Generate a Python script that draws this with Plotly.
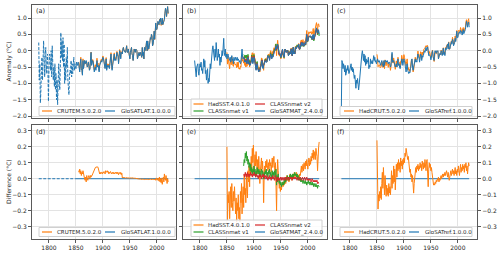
import plotly.graph_objects as go

W, H = 500, 253
ORANGE = "#ff7f0e"
BLUE = "#1f77b4"
GREEN = "#2ca02c"
RED = "#d62728"
FONT = "DejaVu Sans"
TXT = "#262626"

# ---------------- data (annual anomalies, degC) ----------------
glosatlat_start = 1781
glosatlat = [
    0.25, -0.9, -0.4, -1.6, -1.2, -0.6, -0.2, -0.9, -0.3, 0.3,
    -0.2, -0.8, -0.1, 0.1, -0.7, -0.4, -0.1, -0.6, -1.55, -0.5,
    -0.1, -0.3, -0.6, 0.0, -0.8, 0.15, -0.3, -0.9, -0.5, -1.1,
    -0.4, -1.2, -0.7, -1.5, -0.9, -1.65, -1.0, -0.4, -0.8, -1.2,
    -0.5, 0.55, -0.2, 0.3, -0.3, 0.4, -0.5, 0.2, -1.0, -0.4,
    -0.9, -0.2, -0.5, 0.1, -0.9, -1.1, -1.35, -0.8, -0.6, -0.7,
    -0.3, -0.8, -0.4, -0.7, -0.3, -0.2, -0.6, -0.4, -0.5, -0.55,
    -0.35, -0.40, -0.45, -0.35, -0.40, -0.55, -0.65, -0.40, -0.25, -0.55,
    -0.60, -0.75, -0.30, -0.55, -0.35, -0.30, -0.40, -0.35, -0.30, -0.40,
    -0.50, -0.45, -0.35, -0.45, -0.60, -0.55, -0.25, -0.05, -0.45, -0.40,
    -0.30, -0.35, -0.60, -0.65, -0.55, -0.50, -0.60, -0.50, -0.30, -0.50,
    -0.45, -0.55, -0.65, -0.45, -0.40, -0.30, -0.30, -0.35, -0.25, -0.20,
    -0.25, -0.40, -0.45, -0.55, -0.40, -0.25, -0.60, -0.45, -0.50, -0.45,
    -0.50, -0.55, -0.40, -0.15, -0.10, -0.40, -0.60, -0.45, -0.30, -0.30,
    -0.10, -0.30, -0.25, -0.30, -0.15, -0.05, -0.15, -0.15, -0.40, -0.05,
    0.00, -0.05, -0.25, -0.05, -0.10, -0.10, 0.05, 0.10, 0.00, 0.00,
    -0.05, -0.05, 0.05, 0.15, -0.05, -0.05, 0.05, -0.05, -0.10, -0.25,
    -0.05, 0.00, 0.10, -0.10, -0.15, -0.30, 0.00, 0.05, 0.00, -0.05,
    0.05, 0.00, 0.00, -0.25, -0.20, -0.10, -0.05, -0.15, -0.05, -0.05,
    -0.15, -0.20, 0.10, -0.15, -0.05, -0.25, 0.10, 0.00, 0.10, 0.15,
    0.30, 0.00, 0.30, 0.05, 0.05, 0.15, 0.25, 0.40, 0.35, 0.50,
    0.45, 0.15, 0.20, 0.35, 0.60, 0.35, 0.50, 0.85, 0.65, 0.65,
    0.75, 0.90, 0.85, 0.80, 0.95, 0.90, 1.00, 0.80, 0.85, 1.00,
    0.80, 0.85, 0.90, 0.95, 1.15, 1.30, 1.20, 1.05, 1.25, 1.35, 1.15,
]
glosatlat_dashed_until = 1850

crutem_start = 1855
crutem_minus_glosatlat = [
    0.05, 0.04, 0.06, 0.03, 0.05, 0.02, 0.04, 0.03, 0.05, 0.02,
    0.03, 0.00, -0.01, 0.01, -0.02, 0.02, 0.00, -0.01, 0.01, 0.02,
    0.01, 0.00, 0.02, 0.01, 0.02, 0.02, 0.03, 0.04, 0.04, 0.05,
    0.06, 0.07, 0.07, 0.075, 0.07, 0.075, 0.07, 0.06, 0.04, 0.03,
    0.04, 0.03, 0.04, 0.04, 0.03, 0.04, 0.035, 0.045, 0.04, 0.03,
    0.05, 0.04, 0.045, 0.05, 0.04, 0.045, 0.03, 0.04, 0.035, 0.045,
    0.04, 0.03, 0.035, 0.04, 0.03, 0.04, 0.035, 0.03, 0.04, 0.035,
    0.04, 0.03, 0.04, 0.035, 0.025, 0.04, 0.035, 0.03, 0.04, 0.025,
    0.035, 0.005, 0.01, 0.005, 0.01, 0.005, 0.008, 0.004, 0.006, 0.005,
    0.007, 0.004, 0.006, 0.005, 0.004, 0.006, 0.005, 0.004, 0.005, 0.003,
    0.004, 0.005, 0.003, 0.004, 0.002, 0.003, 0.002, 0.001, 0.002, 0.000,
    0.001, -0.001, 0.000, -0.002, -0.001, -0.003, -0.002, -0.004, -0.003, -0.002,
    -0.004, -0.003, -0.005, -0.002, -0.004, -0.003, -0.005, -0.006, -0.004, -0.005,
    -0.003, -0.006, -0.004, -0.002, -0.005, -0.003, -0.006, -0.004, -0.002, -0.005,
    -0.003, -0.008, -0.002, -0.01, 0.005, -0.005, 0.0, -0.01, 0.005, -0.015,
    0.01, -0.02, 0.0, -0.025, 0.005, -0.035, -0.01, 0.01, -0.02, 0.03,
    0.0, -0.01, 0.02, -0.005, -0.03, 0.0, -0.02,
]

glosatmat_start = 1790
glosatmat = [
    -0.30, -0.55, -0.75, -0.80, -0.50, -0.45, -0.40, -0.65, -0.75, -0.55,
    -0.40, -0.50, -0.35, -0.60, -0.55, -0.70, -0.45, -0.25, -0.50, -0.30,
    -0.70, -0.60, -0.90, -0.75, -0.55, -1.00, -0.85, -0.95, -0.60, -0.40,
    -0.55, -0.20, -0.30, 0.05, 0.15, -0.10, -0.05, -0.30, 0.05, -0.20,
    0.25, -0.10, -0.30, -0.15, 0.05, -0.20, -0.10, -0.45, -0.20, -0.35,
    -0.10, 0.00, -0.15, 0.05, 0.38, -0.05, -0.15, 0.05, -0.20, -0.10,
    -0.25, -0.15, -0.10, -0.20, -0.25, -0.30, -0.20, -0.35, -0.25, -0.15,
    -0.30, -0.25, -0.40, -0.20, -0.30, -0.25, -0.20, -0.30, -0.25, -0.20,
    -0.30, -0.25, -0.30, -0.35, -0.30, -0.40, -0.35, -0.10, 0.05, -0.20,
    -0.25, -0.20, -0.25, -0.35, -0.30, -0.35, -0.30, -0.40, -0.30, -0.20,
    -0.40, -0.35, -0.45, -0.45, -0.40, -0.35, -0.20, -0.25, -0.40, -0.30,
    -0.20, -0.25, -0.40, -0.50, -0.60, -0.45, -0.40, -0.55, -0.60, -0.65,
    -0.60, -0.62, -0.50, -0.50, -0.35, -0.30, -0.50, -0.55, -0.45, -0.40,
    -0.35, -0.30, -0.35, -0.35, -0.35, -0.25, -0.15, -0.20, -0.20, -0.30,
    -0.15, -0.10, -0.15, -0.25, -0.15, -0.20, -0.15, -0.05, 0.00, 0.00,
    0.10, 0.15, 0.05, 0.10, 0.20, 0.10, -0.10, -0.10, -0.10, -0.10,
    -0.20, -0.05, 0.00, 0.05, -0.10, -0.15, -0.20, 0.00, 0.05, 0.00,
    -0.05, 0.00, 0.00, 0.00, -0.15, -0.10, -0.05, -0.05, -0.10, 0.05,
    -0.05, -0.15, 0.00, 0.10, -0.10, -0.05, -0.10, 0.10, 0.05, 0.10,
    0.15, 0.15, 0.10, 0.20, 0.05, 0.05, 0.10, 0.25, 0.25, 0.15,
    0.25, 0.25, 0.15, 0.15, 0.20, 0.25, 0.20, 0.40, 0.50, 0.30,
    0.30, 0.40, 0.45, 0.45, 0.45, 0.45, 0.45, 0.40, 0.35, 0.45,
    0.50, 0.35, 0.40, 0.45, 0.55, 0.65, 0.70, 0.60, 0.55, 0.65, 0.62, 0.50,
]

hadsst_start = 1850
hadsst_minus_glosatmat = [
    0.20, -0.26, -0.10, -0.15, -0.08, -0.25, -0.12, -0.05, -0.18, -0.03,
    -0.15, -0.20, -0.08, -0.14, -0.05, -0.18, -0.22, -0.12, -0.27, -0.15,
    -0.20, -0.10, -0.25, -0.18, -0.27, -0.08, -0.15, -0.03, -0.22, -0.12,
    -0.05, -0.18, 0.02, -0.10, -0.06, -0.15, 0.03, -0.08, -0.12, 0.05,
    -0.02, 0.08, -0.05, 0.10, 0.03, 0.14, 0.06, 0.19, 0.10, 0.21,
    0.12, 0.05, 0.15, 0.08, 0.17, 0.10, 0.03, 0.12, 0.06, 0.14,
    0.08, -0.03, 0.05, 0.10, 0.13, 0.06, 0.11, 0.04, -0.15, 0.02,
    0.08, 0.05, 0.11, 0.07, 0.12, 0.08, 0.05, 0.10, 0.06, 0.12,
    0.08, 0.10, 0.04, 0.09, 0.13, 0.07, 0.10, 0.14, 0.08, 0.05,
    0.10, -0.05, -0.20, 0.02, 0.12, 0.05, -0.02, -0.06, -0.03, -0.08,
    -0.05, -0.07, -0.04, -0.02, -0.05, -0.03, -0.04, -0.02, 0.00, -0.03,
    0.00, 0.02, -0.01, 0.01, 0.00, -0.02, 0.01, 0.03, 0.00, 0.02,
    -0.01, 0.01, 0.03, 0.00, 0.02, 0.04, 0.01, 0.03, 0.02, 0.04,
    0.01, 0.03, 0.00, 0.02, 0.01, 0.03, 0.02, 0.05, 0.08, 0.04,
    0.06, 0.09, 0.05, 0.10, 0.08, 0.06, 0.11, 0.08, 0.12, 0.09,
    0.06, 0.10, 0.13, 0.08, 0.12, 0.09, 0.14, 0.11, 0.16, 0.13,
    0.18, 0.12, 0.15, 0.17, 0.12, 0.19, 0.16, 0.14, 0.05, 0.17,
    0.20, 0.23,
]

classnmat_v1_start = 1881
classnmat_v1_minus_glosatmat = [
    0.08, 0.12, 0.10, 0.16, 0.13, 0.17, 0.11, 0.14, 0.09, 0.12,
    0.07, 0.10, 0.05, 0.09, 0.04, 0.07, 0.03, 0.06, 0.04, 0.08,
    0.03, 0.06, 0.01, 0.05, 0.02, 0.07, 0.04, 0.03, 0.06, 0.02,
    0.05, 0.01, 0.04, 0.06, 0.02, 0.05, 0.03, 0.00, 0.04, 0.02,
    0.05, 0.03, 0.06, 0.02, 0.04, 0.01, 0.05, 0.03, 0.06, 0.02,
    0.04, 0.00, 0.03, 0.05, 0.01, 0.04, 0.02, 0.05, 0.01, 0.03,
    0.06, -0.04, 0.02, -0.02, 0.03, -0.01, -0.03, -0.01, -0.04, -0.02,
    -0.05, -0.03, -0.04, -0.02, -0.04, -0.01, -0.03, 0.00, -0.02, 0.01,
    -0.01, 0.02, 0.00, 0.01, -0.01, 0.02, 0.00, 0.03, 0.01, 0.02,
    0.00, 0.03, 0.01, 0.03, 0.02, 0.04, 0.02, 0.03, 0.01, 0.03,
    0.00, 0.02, -0.01, 0.01, -0.01, 0.00, -0.02, 0.00, -0.02, -0.01,
    -0.03, -0.01, -0.02, -0.03, -0.01, -0.03, -0.02, -0.04, -0.02, -0.03,
    -0.01, -0.03, -0.02, -0.04, -0.02, -0.03, -0.04, -0.02, -0.04, -0.03,
    -0.05, -0.03, -0.04, -0.05, -0.03, -0.05, -0.04, -0.06, -0.04, -0.05,
    -0.05,
]

classnmat_v2_start = 1881
classnmat_v2_minus_glosatmat = [
    0.02, 0.03, 0.01, 0.04, 0.02, 0.03, 0.01, 0.04, 0.02, 0.03,
    0.01, 0.03, 0.02, 0.04, 0.02, 0.03, 0.01, 0.03, 0.02, 0.04,
    0.02, 0.03, 0.01, 0.02, 0.03, 0.01, 0.02, 0.00, 0.02, 0.01,
    0.03, 0.01, 0.02, 0.00, 0.02, 0.01, 0.03, 0.01, 0.02, 0.00,
    0.02, 0.01, 0.00, 0.02, 0.01, -0.01, 0.01, 0.00, 0.02, 0.00,
    0.01, -0.01, 0.01, 0.00, 0.02, 0.00, 0.01, -0.01, 0.01, 0.02,
    0.00, -0.02, 0.01, -0.01, 0.01, -0.01, 0.00, -0.01, 0.01, 0.00,
    -0.01, 0.01, 0.00, -0.01, 0.00, 0.01, -0.01, 0.00, 0.01, 0.00,
    -0.01, 0.01, 0.00, 0.01, -0.01, 0.00, 0.01, 0.00, 0.01, 0.00,
    -0.01, 0.01, 0.00, 0.01, 0.00, 0.01, 0.00, 0.01, 0.00, -0.01,
    0.00, 0.01, 0.00, -0.01, 0.00, 0.01, 0.00, -0.01, 0.00, 0.01,
    0.00, -0.01, 0.00, 0.01, 0.00, -0.01, 0.00, 0.01, -0.01, 0.00,
    -0.01, 0.00, -0.01, 0.00, -0.01, -0.02, -0.01, 0.00, -0.01, -0.02,
    -0.01, -0.02, -0.01, -0.02, -0.01, -0.02, -0.01, -0.03, -0.02, -0.03,
]

glosatref_start = 1784
glosatref = [
    -1.72, -0.30, -0.35, -0.55, -0.40, -0.50, -0.65, -0.45, -0.75, -0.70,
    -0.55, -0.60, -0.45, -0.55, -0.70, -0.65, -0.50, -0.45, -0.40, -0.60,
    -0.50, -0.65, -0.55, -0.70, -0.85, -0.75, -0.95, -1.15, -0.90, -1.00,
    -0.85, -1.10, -1.20, -1.05, -0.80, -0.65, -0.55, -0.25, -0.10, 0.00,
    -0.15, -0.30, -0.10, -0.35, -0.15, -0.45, -0.25, -0.40, -0.30, -0.35,
    -0.20, -0.55, -0.45, -0.50, -0.25, -0.40, -0.35, -0.30, -0.40, -0.25,
    -0.15, -0.30, -0.20, -0.35, -0.30, -0.40, -0.35, -0.25, -0.30, -0.35,
    -0.30, -0.35, -0.40, -0.45, -0.35, -0.30, -0.40, -0.45, -0.50, -0.30,
    -0.45, -0.30, -0.30, -0.35, -0.30, -0.30, -0.35, -0.40, -0.35, -0.35,
    -0.40, -0.50, -0.45, -0.20, -0.05, -0.35, -0.35, -0.30, -0.35, -0.45,
    -0.50, -0.45, -0.40, -0.50, -0.40, -0.25, -0.45, -0.40, -0.50, -0.55,
    -0.45, -0.40, -0.25, -0.30, -0.45, -0.35, -0.25, -0.30, -0.45, -0.55,
    -0.65, -0.50, -0.40, -0.60, -0.65, -0.70, -0.65, -0.68, -0.55, -0.50,
    -0.30, -0.25, -0.50, -0.60, -0.50, -0.40, -0.35, -0.25, -0.35, -0.30,
    -0.35, -0.25, -0.10, -0.20, -0.20, -0.35, -0.15, -0.10, -0.15, -0.30,
    -0.15, -0.20, -0.15, -0.05, 0.00, -0.05, 0.05, 0.10, 0.00, 0.05,
    0.12, 0.00, -0.15, -0.12, -0.15, -0.18, -0.28, -0.12, -0.08, 0.00,
    -0.18, -0.22, -0.30, -0.05, 0.00, -0.05, -0.08, 0.00, -0.02, 0.00,
    -0.25, -0.18, -0.10, -0.08, -0.12, 0.00, -0.05, -0.15, -0.05, 0.08,
    -0.12, -0.05, -0.15, 0.08, 0.02, 0.10, 0.15, 0.20, 0.05, 0.25,
    0.05, 0.05, 0.12, 0.25, 0.28, 0.20, 0.35, 0.32, 0.15, 0.18,
    0.25, 0.38, 0.28, 0.42, 0.60, 0.40, 0.40, 0.52, 0.58, 0.58,
    0.52, 0.62, 0.58, 0.58, 0.48, 0.58, 0.65, 0.52, 0.55, 0.60,
    0.65, 0.78, 0.90, 0.80, 0.72, 0.85, 0.88, 0.72,
]

hadcrut_start = 1850
hadcrut_minus_glosatref = [
    0.24, 0.03, -0.19, -0.10, -0.14, -0.08, -0.12, -0.05, -0.13, -0.03,
    0.04, -0.06, 0.07, -0.02, -0.10, 0.02, -0.08, -0.11, -0.04, -0.10,
    -0.06, -0.11, -0.03, -0.09, -0.05, -0.10, -0.04, 0.05, -0.06, 0.02,
    -0.03, 0.08, -0.02, 0.06, -0.07, 0.04, 0.09, 0.01, 0.10, 0.05,
    0.12, 0.06, 0.10, 0.04, 0.13, 0.08, 0.11, 0.06, 0.12, 0.09,
    0.13, 0.10, 0.16, 0.14, 0.19, 0.17, 0.15, 0.12, 0.14, 0.10,
    0.08, 0.04, 0.06, 0.01, 0.03, -0.02, 0.02, -0.05, -0.09, -0.03,
    0.03, 0.05, 0.07, 0.04, 0.08, 0.06, 0.09, 0.05, 0.08, 0.06,
    0.10, 0.07, 0.09, 0.05, 0.11, 0.08, 0.06, 0.10, 0.07, 0.12,
    0.09, 0.05, 0.11, 0.12, 0.03, -0.05, 0.06, 0.10, 0.07, 0.09,
    0.05, 0.07, 0.04, 0.02, -0.02, -0.04, -0.03, -0.04, -0.02, -0.03,
    -0.01, -0.02, 0.00, -0.01, 0.01, -0.02, 0.00, -0.01, 0.01, 0.02,
    0.00, 0.02, 0.03, 0.01, 0.03, 0.02, 0.04, 0.02, 0.03, 0.05,
    0.03, 0.01, 0.04, 0.02, -0.01, 0.01, 0.03, 0.05, 0.02, 0.04,
    0.06, 0.03, 0.05, 0.02, 0.04, 0.07, 0.03, 0.05, 0.02, 0.06,
    0.04, 0.08, 0.05, 0.02, 0.06, 0.09, 0.04, 0.07, 0.05, 0.09,
    0.06, 0.08, 0.04, 0.09, 0.07, 0.10, 0.05, 0.08, 0.03, 0.07,
    0.10, 0.08,
]

x_tick_vals = [1800, 1850, 1900, 1950, 2000]
x_tick_text = ["1800", "1850", "1900", "1950", "2000"]
anom_tick_vals = [-2.0, -1.5, -1.0, -0.5, 0.0, 0.5, 1.0]
anom_tick_text = ["\u22122.0", "\u22121.5", "\u22121.0", "\u22120.5", "0.0", "0.5", "1.0"]
diff_tick_vals = [-0.3, -0.2, -0.1, 0.0, 0.1, 0.2, 0.3]
diff_tick_text = ["\u22120.3", "\u22120.2", "\u22120.1", "0.0", "0.1", "0.2", "0.3"]
panel_labels = ["(a)", "(b)", "(c)", "(d)", "(e)", "(f)"]


# ---------------- helpers ----------------
def years(start, vals):
    return list(range(start, start + len(vals)))


def as_dict(start, vals):
    return dict(zip(years(start, vals), vals))


def add_line(fig, x, y, color, panel, dash=None, width=1.0):
    xa = "x" if panel == 1 else f"x{panel}"
    ya = "y" if panel == 1 else f"y{panel}"
    fig.add_trace(go.Scatter(x=x, y=y, mode="lines", xaxis=xa, yaxis=ya,
                             line=dict(color=color, width=width, dash=dash),
                             showlegend=False, hoverinfo="skip"))


def combine(base_start, base, diff_start, diff):
    b = as_dict(base_start, base)
    d = as_dict(diff_start, diff)
    yr = [y for y in years(diff_start, diff) if y in b]
    return yr, [b[y] + d[y] for y in yr]


fig = go.Figure()

# ---- (a) land ----
lat_y = years(glosatlat_start, glosatlat)
cr_x, cr_y = combine(glosatlat_start, glosatlat, crutem_start, crutem_minus_glosatlat)
add_line(fig, cr_x, cr_y, ORANGE, 1)
early = [(x, v) for x, v in zip(lat_y, glosatlat) if x <= glosatlat_dashed_until]
late = [(x, v) for x, v in zip(lat_y, glosatlat) if x >= glosatlat_dashed_until]
add_line(fig, [p[0] for p in early], [p[1] for p in early], BLUE, 1, dash="3px,1.5px")
add_line(fig, [p[0] for p in late], [p[1] for p in late], BLUE, 1)

# ---- (b) marine ----
mat_y = years(glosatmat_start, glosatmat)
hs_x, hs_y = combine(glosatmat_start, glosatmat, hadsst_start, hadsst_minus_glosatmat)
v1_x, v1_y = combine(glosatmat_start, glosatmat, classnmat_v1_start, classnmat_v1_minus_glosatmat)
v2_x, v2_y = combine(glosatmat_start, glosatmat, classnmat_v2_start, classnmat_v2_minus_glosatmat)
add_line(fig, hs_x, hs_y, ORANGE, 2)
add_line(fig, v1_x, v1_y, GREEN, 2)
add_line(fig, v2_x, v2_y, RED, 2)
add_line(fig, mat_y, glosatmat, BLUE, 2)

# ---- (c) combined ----
ref_y = years(glosatref_start, glosatref)
hc_x, hc_y = combine(glosatref_start, glosatref, hadcrut_start, hadcrut_minus_glosatref)
add_line(fig, hc_x, hc_y, ORANGE, 3)
add_line(fig, ref_y, glosatref, BLUE, 3)

# ---- (d) land differences ----
zero_lat = [v - v for v in glosatlat]
e_x = [x for x in lat_y if x <= glosatlat_dashed_until]
l_x = [x for x in lat_y if x >= glosatlat_dashed_until]
add_line(fig, e_x, [zero_lat[lat_y.index(x)] for x in e_x], BLUE, 4, dash="3px,1.5px")
add_line(fig, l_x, [zero_lat[lat_y.index(x)] for x in l_x], BLUE, 4)
add_line(fig, years(crutem_start, crutem_minus_glosatlat), crutem_minus_glosatlat, ORANGE, 4)

# ---- (e) marine differences ----
add_line(fig, mat_y, [v - v for v in glosatmat], BLUE, 5)
add_line(fig, years(hadsst_start, hadsst_minus_glosatmat), hadsst_minus_glosatmat, ORANGE, 5)
add_line(fig, years(classnmat_v1_start, classnmat_v1_minus_glosatmat), classnmat_v1_minus_glosatmat, GREEN, 5)
add_line(fig, years(classnmat_v2_start, classnmat_v2_minus_glosatmat), classnmat_v2_minus_glosatmat, RED, 5)

# ---- (f) combined differences ----
add_line(fig, ref_y, [v - v for v in glosatref], BLUE, 6)
add_line(fig, years(hadcrut_start, hadcrut_minus_glosatref), hadcrut_minus_glosatref, ORANGE, 6)

# ---------------- layout ----------------
col_px = [(32, 176), (183, 327), (333, 477)]
row_px = [(5, 118), (125, 239)]
x_range = [1768.5, 2035.5]
y_ranges = [[-2.06, 1.40], [-0.377, 0.336]]

layout = dict(
    width=W, height=H, autosize=False,
    margin=dict(l=0, r=0, t=0, b=0, pad=0),
    paper_bgcolor="white", plot_bgcolor="white",
    font=dict(family=FONT, size=6, color=TXT),
    showlegend=False,
)

tickfont = dict(family=FONT, size=6, color=TXT)
for r in range(2):
    for c in range(3):
        i = r * 3 + c + 1
        xk = "xaxis" if i == 1 else f"xaxis{i}"
        yk = "yaxis" if i == 1 else f"yaxis{i}"
        xa_id = "x" if i == 1 else f"x{i}"
        ya_id = "y" if i == 1 else f"y{i}"
        xl, xr = col_px[c]
        yt, yb = row_px[r]
        layout[xk] = dict(
            domain=[xl / W, xr / W], anchor=ya_id, range=x_range,
            tickmode="array", tickvals=x_tick_vals, ticktext=x_tick_text,
            showticklabels=(r == 1), showgrid=True, gridcolor="#e3e3e3", gridwidth=1,
            showline=True, mirror=True, linecolor="#5a5a5a", linewidth=1,
            ticks="outside", ticklen=3, tickwidth=1, tickcolor="#5a5a5a",
            zeroline=False, tickfont=tickfont, automargin=False, fixedrange=True,
            ticklabeloverflow="allow",
        )
        layout[yk] = dict(
            domain=[1 - yb / H, 1 - yt / H], anchor=xa_id, range=y_ranges[r],
            tickmode="array",
            tickvals=anom_tick_vals if r == 0 else diff_tick_vals,
            ticktext=anom_tick_text if r == 0 else diff_tick_text,
            showticklabels=(c != 1), side="right" if c == 2 else "left",
            showgrid=True, gridcolor="#e3e3e3", gridwidth=1,
            showline=True, mirror=True, linecolor="#5a5a5a", linewidth=1,
            ticks="outside", ticklen=3, tickwidth=1, tickcolor="#5a5a5a",
            zeroline=False, tickfont=tickfont, automargin=False, fixedrange=True,
            ticklabeloverflow="allow",
        )

fig.update_layout(**layout)

shapes = []
annotations = []


def P(x, y):
    return x / W, 1 - y / H


def text_ann(x, y, text, size=6, xanchor="left", yanchor="middle", angle=0):
    px_, py_ = P(x, y)
    annotations.append(dict(x=px_, y=py_, xref="paper", yref="paper", text=text,
                            showarrow=False, xanchor=xanchor, yanchor=yanchor,
                            textangle=angle, borderpad=0,
                            font=dict(family=FONT, size=size, color=TXT)))


def legend_box(x0, y0, x1, y1, entries):
    a0, b0 = P(x0, y1)
    a1, b1 = P(x1, y0)
    shapes.append(dict(type="rect", xref="paper", yref="paper", x0=a0, y0=b0, x1=a1, y1=b1,
                       line=dict(color="#d0d0d0", width=1), fillcolor="rgba(255,255,255,0.85)",
                       layer="above"))
    for label, color, lx0, lx1, tx, ty in entries:
        q0, qy = P(lx0, ty)
        q1, _ = P(lx1, ty)
        shapes.append(dict(type="line", xref="paper", yref="paper", x0=q0, y0=qy, x1=q1, y1=qy,
                           line=dict(color=color, width=1.2), layer="above"))
        text_ann(tx, ty, label, size=5.5)


for r in range(2):
    dy = 0 if r == 0 else 121
    legend_box(39, 106.5 + dy, 175, 115.5 + dy, [
        ("CRUTEM.5.0.2.0", ORANGE, 42, 52, 55.5, 111 + dy),
        ("GloSATLAT.1.0.0.0", BLUE, 105, 115, 119.5, 111 + dy),
    ])
    legend_box(191, 99 + dy, 322, 115.5 + dy, [
        ("HadSST.4.0.1.0", ORANGE, 193.5, 203.5, 207, 104 + dy),
        ("CLASSnmat v2", RED, 255, 265, 268.5, 104 + dy),
        ("CLASSnmat v1", GREEN, 193.5, 203.5, 207, 111 + dy),
        ("GloSATMAT_2.4.0.0", BLUE, 255, 265, 268.5, 111 + dy),
    ])
    legend_box(340, 106.5 + dy, 472, 115.5 + dy, [
        ("HadCRUT.5.0.2.0", ORANGE, 344, 354, 357.5, 111 + dy),
        ("GloSATref.1.0.0.0", BLUE, 409, 419, 423.5, 111 + dy),
    ])

for i, lab in enumerate(panel_labels):
    r, c = divmod(i, 3)
    text_ann(col_px[c][0] + 3, row_px[r][0] + 6.5, lab, size=6.5)

text_ann(8, (row_px[0][0] + row_px[0][1]) / 2, "Anomaly (\u00b0C)", size=6,
         xanchor="center", angle=-90)
text_ann(8, (row_px[1][0] + row_px[1][1]) / 2, "Difference (\u00b0C)", size=6,
         xanchor="center", angle=-90)

fig.update_layout(shapes=shapes, annotations=annotations)
# the page's default 8px body margin would push the 500x253 figure off the window
fig.write_html("out.html",
               config={"displayModeBar": False, "staticPlot": True},
               post_script="document.body.style.margin='0px';document.body.style.overflow='hidden';")
